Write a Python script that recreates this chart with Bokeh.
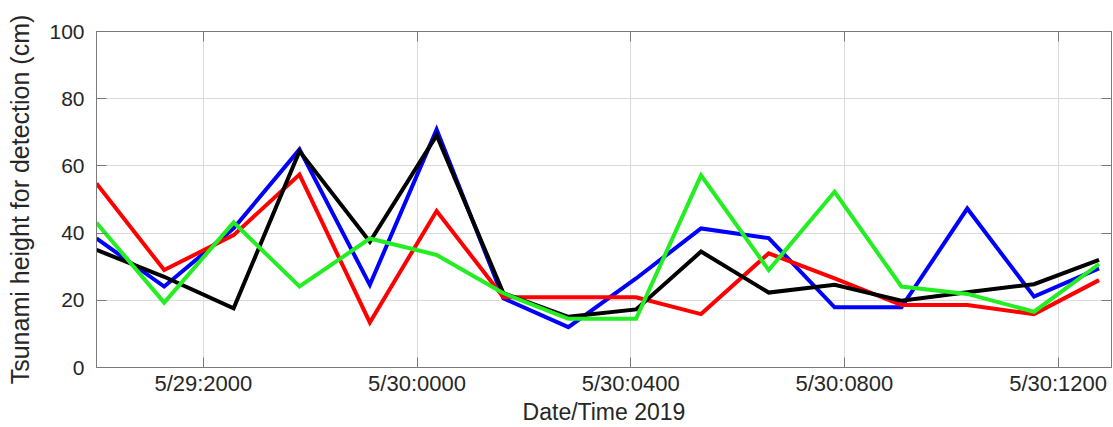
import pandas as pd
from bokeh.plotting import figure
from bokeh.models import LinearAxis, FixedTicker, Range1d, Grid
from bokeh.embed import file_html
from bokeh.resources import INLINE

# ---- data ----
times = ["2019-05-29 18:00", "2019-05-29 19:16", "2019-05-29 20:34", "2019-05-29 21:48",
         "2019-05-29 23:07", "2019-05-30 00:22", "2019-05-30 01:37", "2019-05-30 02:50",
         "2019-05-30 04:06", "2019-05-30 05:19", "2019-05-30 06:35", "2019-05-30 07:49",
         "2019-05-30 09:04", "2019-05-30 10:18", "2019-05-30 11:33", "2019-05-30 12:46"]
blue = [38.4, 24.1, 41.4, 64.9, 24.6, 70.8, 20.6, 12.0, 26.5, 41.4, 38.5, 17.9, 17.9, 47.3, 21.1, 29.5]
red = [54.8, 29.0, 39.4, 57.4, 13.4, 46.6, 20.9, 20.9, 20.9, 15.9, 34.0, 26.5, 18.6, 18.6, 15.9, 26.0]
black = [35.0, 27.0, 17.6, 64.4, 37.4, 69.1, 22.1, 15.1, 17.3, 34.5, 22.3, 24.6, 19.9, 22.4, 24.8, 32.0]
green = [43.1, 19.3, 43.2, 24.1, 38.4, 33.5, 22.1, 14.5, 14.5, 57.2, 29.0, 52.3, 24.1, 21.9, 16.6, 30.8]

x_tick_times = ["2019-05-29 20:00", "2019-05-30 00:00", "2019-05-30 04:00",
                "2019-05-30 08:00", "2019-05-30 12:00"]
x_tick_labels = ["5/29:2000", "5/30:0000", "5/30:0400", "5/30:0800", "5/30:1200"]
y_ticks = [0, 20, 40, 60, 80, 100]
x_start, x_end = "2019-05-29 18:00", "2019-05-30 13:00"
x_title = "Date/Time 2019"
y_title = "Tsunami height for detection (cm)"


def ms(s):
    return int(pd.Timestamp(s).value // 10**6)


x = [ms(t) for t in times]
xt = [ms(t) for t in x_tick_times]

FONT = "Liberation Sans"
AX_COLOR = "#7a7a7a"
TXT = "#262626"

p = figure(width=1113, height=427, x_axis_type=None, y_axis_type=None,
           x_range=Range1d(ms(x_start), ms(x_end)), y_range=Range1d(0, 100),
           output_backend="svg", toolbar_location=None,
           min_border_left=96, min_border_right=2, min_border_top=31, min_border_bottom=60)
p.outline_line_color = AX_COLOR
p.outline_line_width = 1
p.background_fill_color = "white"
p.border_fill_color = "white"


def style(ax):
    ax.axis_line_color = AX_COLOR
    ax.major_tick_line_color = AX_COLOR
    ax.major_tick_in = 10
    ax.major_tick_out = 0
    ax.minor_tick_line_color = None
    ax.major_label_text_font = FONT
    ax.major_label_text_color = TXT
    ax.axis_label_text_font = FONT
    ax.axis_label_text_font_style = "normal"
    ax.axis_label_text_color = TXT


bottom = LinearAxis(ticker=FixedTicker(ticks=xt), axis_label=x_title,
                    major_label_overrides={v: l for v, l in zip(xt, x_tick_labels)})
style(bottom)
bottom.major_label_text_font_size = "22px"
bottom.major_label_standoff = 3
bottom.axis_label_text_font_size = "23px"
bottom.axis_label_standoff = 0
p.add_layout(bottom, "below")

top = LinearAxis(ticker=FixedTicker(ticks=xt),
                 major_label_overrides={v: "" for v in xt})
style(top)
top.major_label_standoff = 0
p.add_layout(top, "above")

left = LinearAxis(ticker=FixedTicker(ticks=y_ticks), axis_label=y_title)
style(left)
left.major_label_text_font_size = "21px"
left.major_label_standoff = 12
left.axis_label_text_font_size = "25px"
left.axis_label_standoff = 12
p.add_layout(left, "left")

right = LinearAxis(ticker=FixedTicker(ticks=y_ticks),
                   major_label_overrides={v: "" for v in y_ticks})
style(right)
right.major_label_standoff = 0
p.add_layout(right, "right")

p.add_layout(Grid(dimension=0, ticker=FixedTicker(ticks=xt), grid_line_color="#dadada"))
p.add_layout(Grid(dimension=1, ticker=FixedTicker(ticks=y_ticks), grid_line_color="#dadada"))

for ys, c in [(blue, "#0000ff"), (red, "#ff0000"), (black, "#000000"), (green, "#22ee22")]:
    p.line(x, ys, line_color=c, line_width=4, line_join="miter")

open("out.html", "w").write(file_html(p, INLINE))
